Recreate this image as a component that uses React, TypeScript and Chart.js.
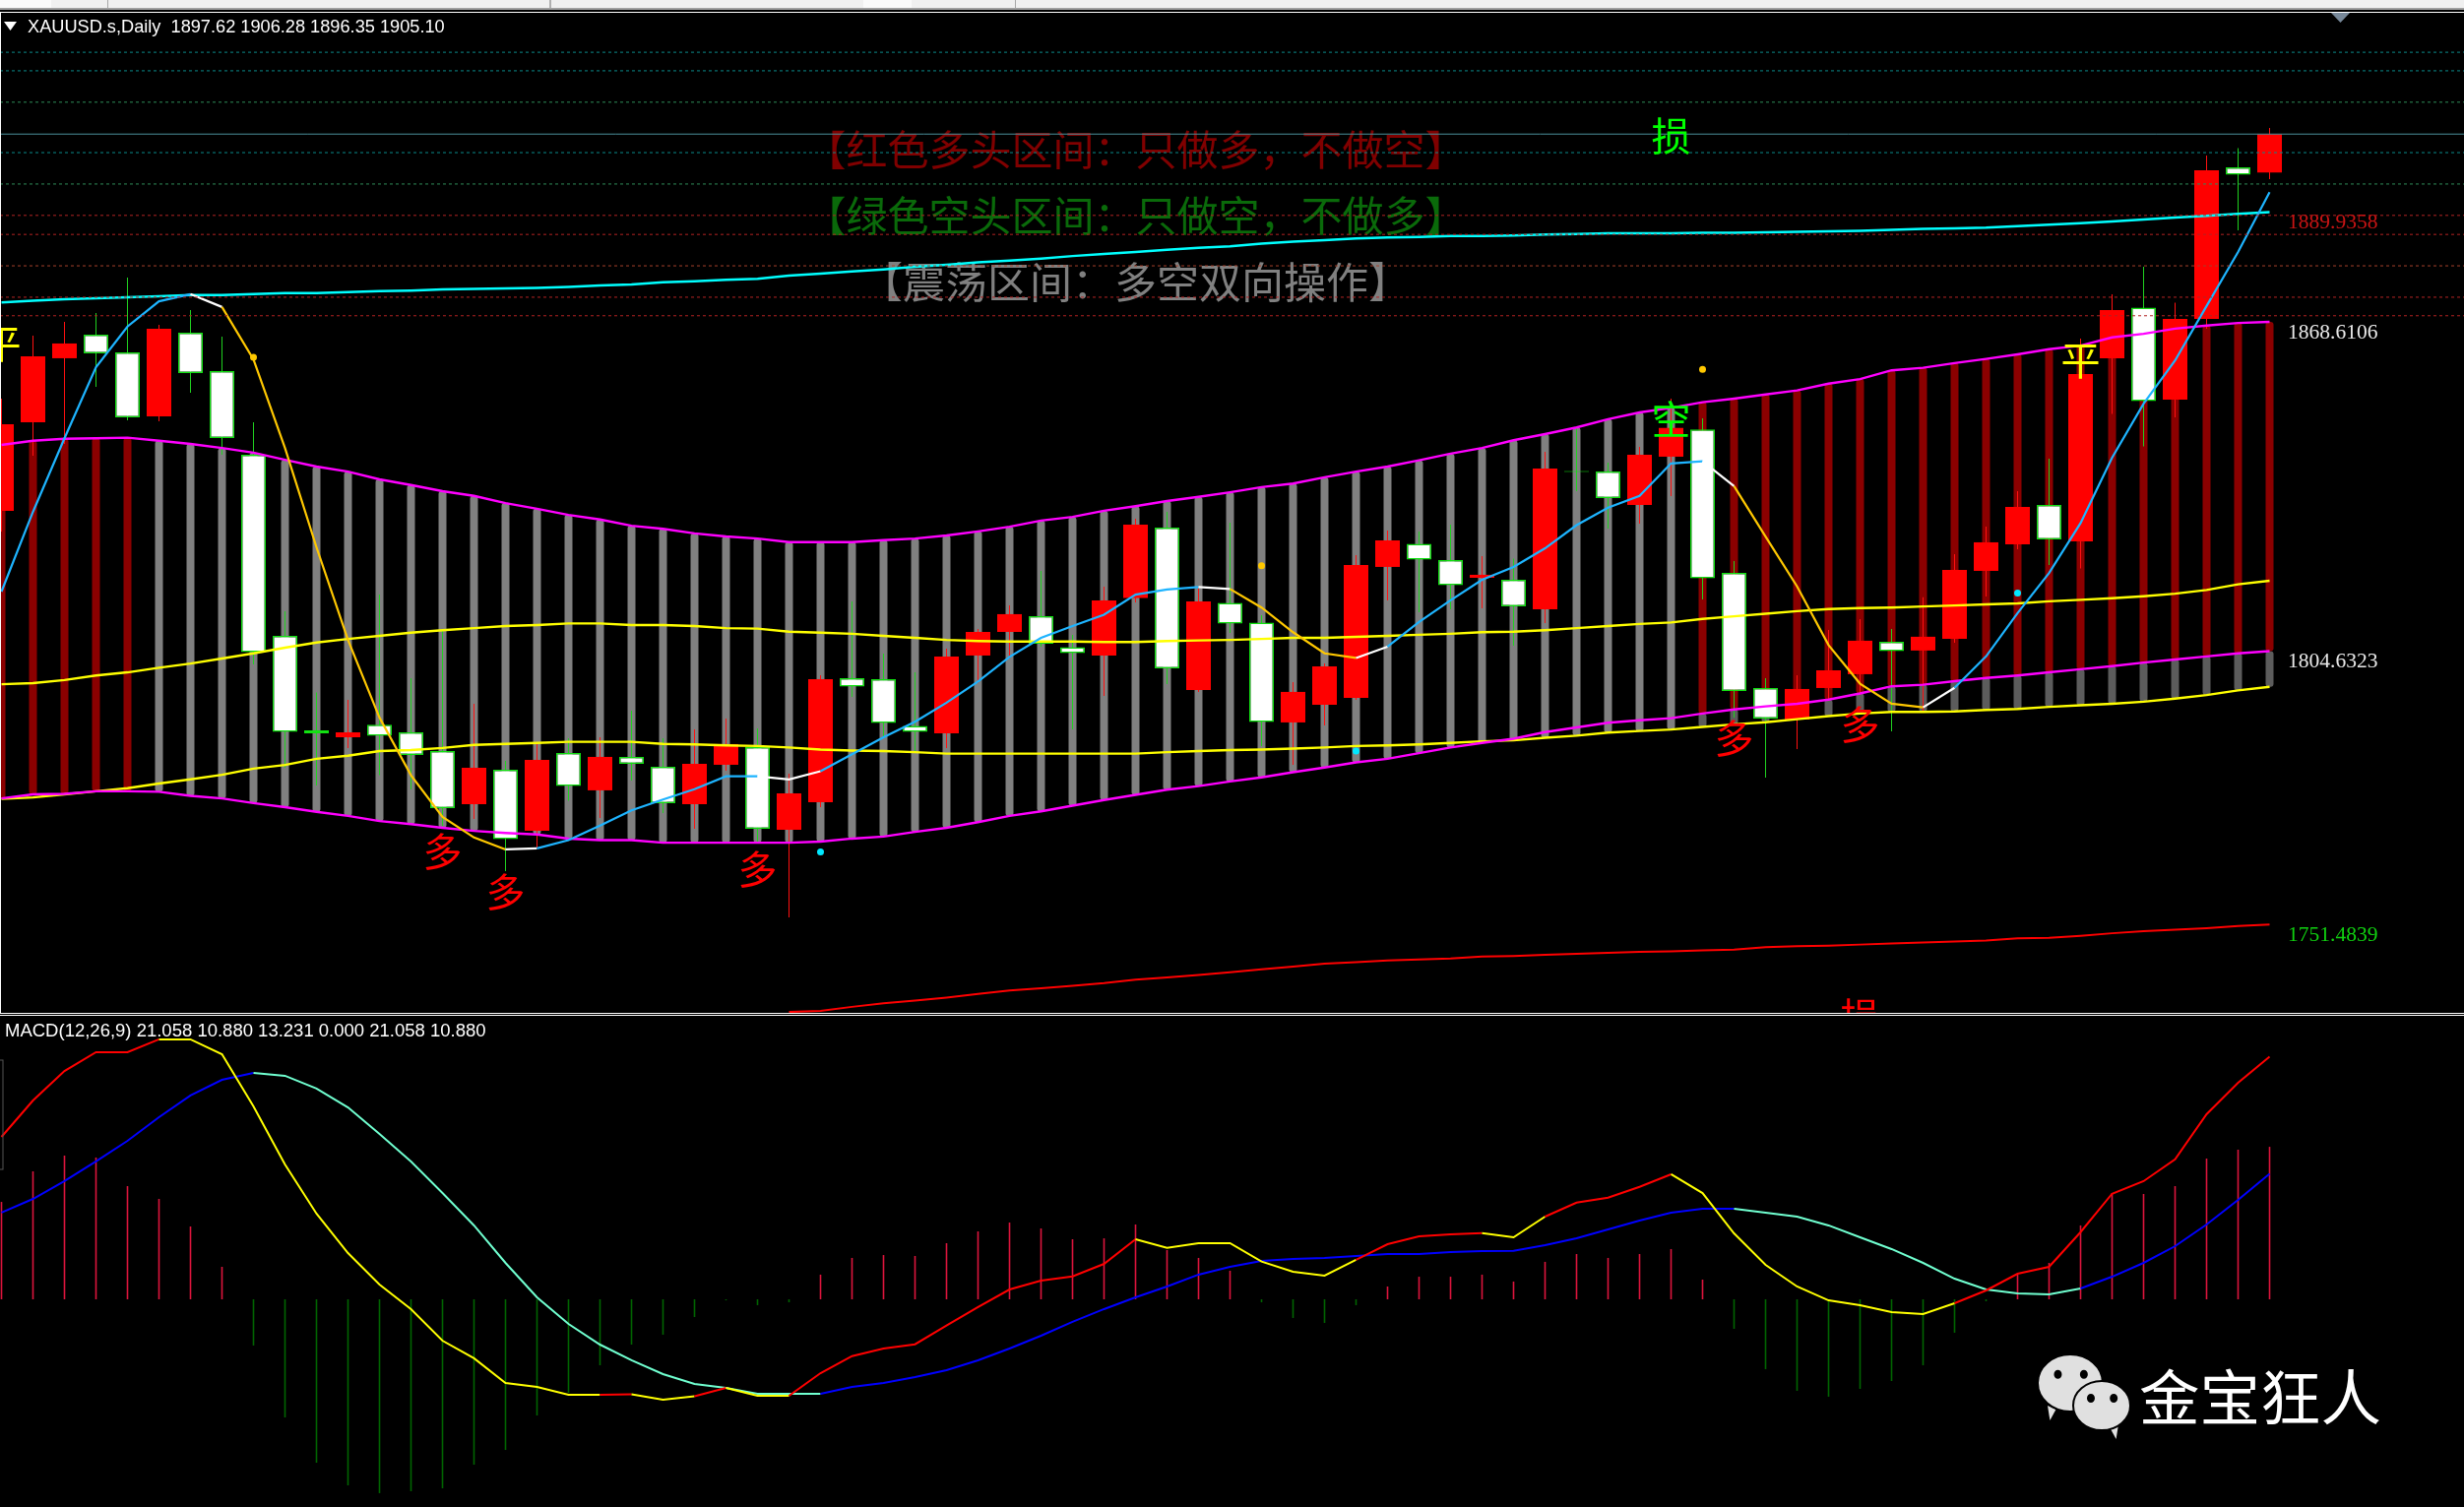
import React, { useEffect, useRef } from "react";
import { Chart, registerables } from "chart.js";

Chart.register(...registerables);

// ---------- candles (one per trading day) ----------
const opens = [1831.89,1849.10,1861.54,1866.13,1862.69,1850.25,1866.51,1859.05,1842.79,1807.60,1789.24,1787.89,1790.31,1788.85,1785.22,1774.89,1781.58,1769.73,1784.83,1777.57,1784.07,1782.16,1774.89,1782.54,1785.98,1769.92,1775.27,1799.37,1799.18,1790.10,1788.66,1803.77,1808.36,1811.43,1805.40,1803.77,1814.97,1828.63,1797.08,1814.01,1810.18,1790.77,1794.21,1795.55,1820.99,1825.48,1822.32,1818.88,1818.50,1812.77,1839.63,1839.54,1833.03,1842.41,1847.71,1819.84,1797.46,1791.34,1797.46,1800.14,1806.46,1804.74,1807.03,1820.22,1825.38,1833.03,1825.96,1861.54,1871.37,1853.50,1869.19,1898.64,1897.62];
const closes = [1848.72,1861.92,1864.41,1862.50,1850.06,1867.28,1858.67,1846.04,1804.45,1788.93,1788.66,1788.85,1788.19,1784.45,1774.12,1781.97,1768.10,1783.50,1778.43,1784.07,1782.73,1775.08,1782.73,1786.56,1770.11,1776.99,1799.18,1797.75,1790.65,1788.93,1803.58,1808.36,1811.81,1806.08,1804.24,1814.49,1829.21,1801.29,1814.30,1809.97,1790.84,1796.70,1801.67,1821.37,1826.15,1822.40,1817.43,1819.46,1813.34,1840.11,1839.44,1834.37,1842.79,1848.00,1818.77,1796.89,1791.53,1797.27,1800.90,1806.65,1804.64,1807.42,1820.41,1825.77,1832.65,1826.33,1858.48,1870.91,1853.20,1869.19,1898.07,1897.19,1905.10];
const highs = [1853.69,1865.94,1868.62,1870.34,1877.22,1868.04,1870.91,1865.75,1849.10,1812.38,1796.58,1795.17,1815.63,1799.37,1808.56,1794.40,1783.30,1786.75,1787.71,1787.90,1793.06,1787.71,1789.43,1791.53,1789.62,1780.82,1799.95,1814.29,1804.15,1800.52,1805.11,1808.94,1813.53,1820.23,1807.79,1817.17,1830.36,1831.70,1816.78,1829.59,1811.62,1798.61,1802.24,1823.28,1828.06,1827.87,1829.21,1823.09,1822.61,1843.36,1848.15,1841.26,1844.32,1853.69,1849.87,1822.13,1799.37,1799.95,1808.75,1810.85,1808.94,1815.10,1823.47,1828.83,1835.71,1842.03,1865.37,1873.97,1879.33,1872.34,1900.94,1902.37,1906.28];
const lows = [1827.87,1842.60,1844.90,1855.99,1849.49,1849.29,1854.84,1842.79,1802.05,1781.97,1778.52,1785.79,1780.53,1777.76,1770.68,1772.02,1761.89,1766.48,1775.54,1772.21,1779.48,1773.17,1770.11,1781.39,1767.24,1752.90,1774.31,1795.74,1787.71,1784.83,1785.79,1798.42,1803.20,1805.50,1789.43,1795.93,1814.10,1798.23,1796.70,1808.18,1786.17,1782.54,1790.19,1795.17,1814.49,1812.19,1812.77,1812.96,1805.69,1810.10,1835.71,1828.44,1829.40,1834.75,1814.68,1791.73,1780.05,1785.60,1795.17,1796.12,1789.04,1792.68,1806.27,1815.25,1824.42,1821.37,1820.70,1850.73,1844.42,1850.06,1867.28,1886.40,1896.35];

// ---------- overlay lines (price) ----------
const bandUpper = [1844.7,1845.5,1845.9,1846.0,1846.1,1845.5,1844.9,1844.1,1843.2,1841.8,1840.5,1839.5,1838.0,1836.9,1835.7,1834.8,1833.4,1832.3,1831.1,1830.2,1829.0,1828.4,1827.5,1826.9,1826.5,1825.8,1825.8,1825.8,1826.2,1826.5,1827.1,1827.9,1828.8,1830.0,1830.7,1831.9,1832.8,1833.8,1834.6,1835.5,1836.5,1837.2,1838.4,1839.5,1840.5,1841.7,1843.0,1844.1,1845.6,1846.8,1848.1,1849.7,1851.0,1851.9,1853.0,1853.7,1854.5,1855.3,1856.6,1857.5,1859.2,1859.7,1860.6,1861.4,1862.3,1863.3,1864.0,1865.6,1866.3,1867.3,1867.9,1868.4,1868.6106];
const bandLower = [1776.0,1776.8,1776.9,1777.4,1777.4,1777.3,1776.5,1776.0,1775.1,1774.3,1773.4,1772.6,1771.6,1771.0,1770.3,1769.7,1769.3,1769.0,1768.2,1767.9,1767.9,1767.4,1767.4,1767.4,1767.4,1767.4,1767.6,1768.2,1768.6,1769.5,1770.3,1771.4,1772.6,1773.5,1774.6,1775.7,1776.7,1777.7,1778.4,1779.3,1780.1,1781.1,1782.0,1783.0,1783.7,1784.8,1785.9,1786.8,1787.6,1788.9,1789.8,1790.7,1791.2,1791.6,1792.5,1793.3,1793.9,1794.4,1795.2,1796.4,1797.8,1798.1,1798.8,1799.4,1799.9,1800.5,1801.1,1801.7,1802.4,1803.0,1803.6,1804.2,1804.6323];
const yellowUpper = [1798.2,1798.4,1799.0,1799.9,1800.5,1801.4,1802.2,1803.2,1804.2,1805.3,1806.3,1807.0,1807.6,1808.2,1808.7,1809.1,1809.5,1809.7,1810.0,1810.0,1809.7,1809.7,1809.5,1809.1,1809.0,1808.4,1808.2,1808.0,1807.6,1807.2,1806.8,1806.6,1806.5,1806.5,1806.5,1806.4,1806.4,1806.6,1806.7,1806.8,1807.0,1807.2,1807.2,1807.4,1807.6,1807.8,1808.0,1808.3,1808.4,1808.7,1809.1,1809.5,1809.9,1810.2,1810.9,1811.4,1811.9,1812.4,1812.8,1813.0,1813.1,1813.3,1813.5,1813.7,1813.9,1814.3,1814.6,1814.9,1815.3,1815.8,1816.5,1817.6,1818.3];
const yellowLower = [1775.9,1776.2,1776.8,1777.4,1778.0,1778.9,1779.7,1780.6,1781.8,1782.5,1783.7,1784.3,1785.2,1785.4,1785.8,1786.4,1786.6,1786.8,1787.0,1787.0,1787.0,1786.6,1786.5,1786.3,1786.2,1785.9,1785.5,1785.3,1785.2,1785.0,1784.7,1784.7,1784.7,1784.7,1784.7,1784.7,1784.7,1785.0,1785.2,1785.4,1785.5,1785.7,1785.9,1786.2,1786.3,1786.5,1786.8,1787.1,1787.3,1787.8,1788.2,1788.8,1789.1,1789.4,1789.9,1790.4,1790.8,1791.4,1792.0,1792.5,1792.8,1792.8,1792.9,1793.2,1793.4,1793.8,1794.1,1794.4,1794.8,1795.4,1796.1,1797.0,1797.7];
const cyanLine = [1872.4,1872.7,1873.0,1873.2,1873.4,1873.6,1873.8,1873.8,1874.0,1874.2,1874.2,1874.4,1874.6,1874.7,1874.9,1875.0,1875.1,1875.2,1875.4,1875.7,1875.9,1876.3,1876.5,1876.8,1877.0,1877.6,1878.0,1878.4,1878.8,1879.3,1879.7,1880.2,1880.5,1880.9,1881.4,1881.8,1882.2,1882.6,1883.0,1883.3,1883.8,1884.2,1884.5,1884.8,1885.0,1885.1,1885.3,1885.3,1885.4,1885.6,1885.7,1885.8,1885.8,1885.8,1885.9,1885.9,1886.0,1886.1,1886.2,1886.3,1886.5,1886.7,1886.8,1886.9,1887.2,1887.5,1887.8,1888.1,1888.5,1888.9,1889.2,1889.6,1889.9358];
const fastLine = [1816.2,1831.7,1846.0,1859.8,1867.7,1872.6,1874.0,1871.5,1861.3,1844.1,1824.8,1806.8,1791.7,1780.5,1772.4,1768.4,1766.1,1766.3,1767.9,1770.7,1773.7,1775.8,1777.8,1780.3,1780.3,1779.7,1781.3,1784.6,1787.9,1790.9,1794.6,1798.7,1803.5,1807.2,1809.5,1811.7,1815.6,1816.6,1817.1,1816.7,1813.1,1808.3,1804.2,1803.3,1805.5,1810.3,1814.5,1818.5,1821.0,1824.6,1829.1,1832.5,1834.8,1841.1,1841.5,1836.7,1826.9,1817.2,1805.8,1798.3,1794.4,1793.7,1797.5,1803.6,1812.0,1819.8,1829.5,1842.2,1852.7,1861.1,1871.7,1882.2,1893.8];
const redLineStart = 25;
const redLine = [1734.5,1734.7,1735.5,1736.2,1736.7,1737.3,1738.0,1738.7,1739.1,1739.6,1740.1,1740.8,1741.2,1741.7,1742.2,1742.8,1743.3,1743.9,1744.2,1744.5,1744.7,1744.9,1745.3,1745.4,1745.6,1745.8,1746.0,1746.2,1746.3,1746.5,1746.6,1747.1,1747.3,1747.4,1747.6,1747.8,1748.0,1748.2,1748.4,1748.8,1748.9,1749.3,1749.8,1750.2,1750.5,1750.8,1751.2,1751.4839];
const fastColorRuns: [number, string][] = [[6,"b"],[1,"w"],[9,"g"],[1,"w"],[7,"b"],[2,"w"],[12,"b"],[1,"w"],[4,"g"],[1,"w"],[10,"b"],[1,"w"],[6,"g"],[1,"w"],[10,"b"]];
const darkRedBands = [0,1,2,3,4,54,55,56,57,58,59,60,61,62,63,64,65,66,67,68,69,70,71,72];

const goldDots = [{ i: 8, p: 1861.7 }, { i: 40, p: 1821.2 }, { i: 54, p: 1859.4 }];
const cyanDots = [{ i: 26, p: 1765.6 }, { i: 43, p: 1785.2 }, { i: 64, p: 1815.9 }];

const levels = [
  { p: 1921.0, c: "#0a8a8a", d: [3, 3] }, { p: 1917.4, c: "#0a8a8a", d: [3, 3] },
  { p: 1911.3, c: "#2e8b57", d: [3, 3] }, { p: 1905.1, c: "#4a8f9a", d: [] },
  { p: 1901.5, c: "#0a8a8a", d: [3, 3] }, { p: 1895.4, c: "#2e8b57", d: [3, 3] },
  { p: 1889.3, c: "#b22222", d: [3, 3] }, { p: 1885.6, c: "#b22222", d: [3, 3] },
  { p: 1879.5, c: "#a5402a", d: [3, 3] }, { p: 1873.4, c: "#b22222", d: [3, 3] },
  { p: 1869.8, c: "#b22222", d: [3, 3] },
];

const signs = [
  { t: "多", i: 14, p: 1765.7, c: "#ff0000" }, { t: "多", i: 16, p: 1757.9, c: "#ff0000" },
  { t: "多", i: 24, p: 1762.3, c: "#ff0000" }, { t: "多", i: 55, p: 1787.7, c: "#ff0000" },
  { t: "多", i: 59, p: 1790.4, c: "#ff0000" }, { t: "平", i: 0, p: 1864.4, c: "#ffff00" },
  { t: "平", i: 66, p: 1861.1, c: "#ffff00" }, { t: "空", i: 53, p: 1849.7, c: "#00ff00" },
  { t: "损", i: 53, p: 1904.8, c: "#00ff00" }, { t: "损", i: 59, p: 1733.6, c: "#ff0000" },
  { t: "损", i: 55, p: 1730.6, c: "#ff0000" },
];
const captions = [
  { t: "【红色多头区间：只做多，不做空】", i: 36, p: 1902.1, c: "#800000", s: 42 },
  { t: "【绿色空头区间：只做空，不做多】", i: 36, p: 1889.3, c: "#0a6a0a", s: 42 },
  { t: "【震荡区间：多空双向操作】", i: 36, p: 1876.3, c: "#808080", s: 43 },
];
const priceLabels = [
  { t: "1889.9358", p: 1889.9358, c: "#c81414" }, { t: "1868.6106", p: 1868.6106, c: "#e8e8e8" },
  { t: "1804.6323", p: 1804.6323, c: "#e8e8e8" }, { t: "1751.4839", p: 1751.4839, c: "#10d010" },
];
const headerMain = "XAUUSD.s,Daily  1897.62 1906.28 1896.35 1905.10";

// ---------- MACD ----------
const macdLine = [14.09,17.25,19.81,21.44,21.44,22.55,22.55,21.26,16.74,11.70,7.43,4.01,1.28,-0.85,-3.59,-5.12,-7.26,-7.60,-8.28,-8.28,-8.24,-8.71,-8.42,-7.69,-8.37,-8.37,-6.41,-4.93,-4.27,-3.90,-2.28,-0.68,0.85,1.62,1.99,3.07,5.21,4.47,4.87,4.87,3.27,2.39,2.05,3.42,4.78,5.47,5.64,5.75,5.38,7.17,8.39,8.82,9.76,10.85,9.22,5.72,2.99,1.11,-0.09,-0.51,-1.11,-1.28,-0.34,0.77,2.22,2.82,5.83,9.16,10.25,12.15,16.06,18.79,21.058];
const signalLine = [7.52,8.71,10.25,11.96,13.75,15.80,17.68,19.04,19.64,19.39,18.28,16.65,14.35,11.96,9.22,6.41,3.16,0.17,-2.14,-3.93,-5.29,-6.49,-7.34,-7.69,-8.20,-8.20,-8.20,-7.60,-7.26,-6.75,-6.15,-5.29,-4.27,-3.16,-1.96,-0.85,0.17,1.11,2.14,2.82,3.33,3.50,3.59,3.76,3.93,3.93,4.10,4.18,4.21,4.70,5.29,6.06,6.83,7.52,7.86,7.86,7.52,7.17,6.41,5.38,4.36,3.16,1.79,0.85,0.51,0.43,0.94,1.96,3.16,4.61,6.49,8.63,10.880];
const histogram = [8.45,11.10,12.47,12.30,9.82,8.71,6.32,2.82,-4.01,-10.25,-14.18,-16.14,-16.82,-16.65,-16.40,-14.35,-13.07,-10.08,-8.11,-5.72,-3.93,-3.07,-1.54,-0.09,-0.51,-0.26,2.14,3.59,3.84,3.76,4.87,5.89,6.66,6.15,5.21,5.29,6.49,4.27,3.59,2.48,-0.26,-1.62,-2.05,-0.51,1.11,1.96,1.96,2.14,1.54,3.25,3.93,3.59,3.93,4.36,1.71,-2.56,-6.06,-7.94,-8.45,-7.77,-7.09,-5.72,-2.90,-0.17,2.14,3.16,6.41,9.22,9.14,9.82,12.21,12.98,13.231];
const macdColorRuns: [number, string][] = [[5,"r"],[14,"y"],[1,"r"],[2,"y"],[1,"r"],[2,"y"],[11,"r"],[7,"y"],[4,"r"],[2,"y"],[4,"r"],[9,"y"],[10,"r"]];
const signalColorRuns: [number, string][] = [[8,"b"],[18,"a"],[29,"b"],[11,"a"],[6,"b"]];
const headerMacd = "MACD(12,26,9) 21.058 10.880 13.231 0.000 21.058 10.880";
const watermark = "金宝狂人";

// ---------- scale ranges ----------
const xMin = -0.046875;
const xMax = 78.171875;
const priceMin = 1734.33;
const priceMax = 1928.67;
const macdMin = -18.02;
const macdMax = 24.595;

const palette: Record<string, string> = {
  b: "#1eb4ff", w: "#ffffff", g: "#ffc800", r: "#ff0000", y: "#ffff00",
};
const signalPalette: Record<string, string> = { b: "#0000ff", a: "#70ffd0" };

const expand = (runs: [number, string][], pal: Record<string, string>) => {
  const out: string[] = [];
  runs.forEach(([n, k]) => { for (let j = 0; j < n; j++) out.push(pal[k]); });
  return out;
};
const series = (vals: number[], start = 0) => vals.map((y, i) => ({ x: i + start, y }));
const hiddenScale = (min: number, max: number) => ({
  type: "linear" as const, min, max, display: false, offset: false, grid: { display: false },
});

const line = (label: string, data: any[], color: string, width: number, order: number, extra: any = {}) => ({
  type: "line" as const, label, data, borderColor: color, borderWidth: width, pointRadius: 0, tension: 0, order, ...extra,
});

const cjk = '"Noto Sans CJK SC", sans-serif';

const mainPlugin = {
  id: "mainText",
  beforeDatasetsDraw(chart: any) {
    const { ctx, scales } = chart;
    ctx.save();
    ctx.textAlign = "center";
    ctx.textBaseline = "middle";
    captions.forEach((c) => {
      ctx.font = `${c.s}px ${cjk}`;
      ctx.fillStyle = c.c;
      ctx.fillText(c.t, scales.x.getPixelForValue(c.i), scales.y.getPixelForValue(c.p));
    });
    ctx.restore();
  },
  afterDatasetsDraw(chart: any) {
    const { ctx, scales } = chart;
    ctx.save();
    ctx.font = `40px ${cjk}`;
    ctx.textAlign = "center";
    ctx.textBaseline = "middle";
    signs.forEach((s) => {
      ctx.fillStyle = s.c;
      ctx.fillText(s.t, scales.x.getPixelForValue(s.i), scales.y.getPixelForValue(s.p));
    });
    ctx.font = '21.5px "Liberation Serif", serif';
    ctx.textAlign = "left";
    priceLabels.forEach((l) => {
      ctx.fillStyle = l.c;
      ctx.fillText(l.t, 2324, scales.y.getPixelForValue(l.p) + 11);
    });
    // header
    ctx.font = '18.2px "Liberation Sans", sans-serif';
    ctx.fillStyle = "#ffffff";
    ctx.fillText(headerMain, 28, 15);
    ctx.beginPath();
    ctx.moveTo(4, 9);
    ctx.lineTo(17, 9);
    ctx.lineTo(10.5, 18);
    ctx.closePath();
    ctx.fill();
    // small chart-shift marker
    ctx.fillStyle = "#778899";
    ctx.beginPath();
    ctx.moveTo(2368, 0);
    ctx.lineTo(2387, 0);
    ctx.lineTo(2377.5, 10);
    ctx.closePath();
    ctx.fill();
    ctx.restore();
  },
};

const bubble = (ctx: any, cx: number, cy: number, rx: number, ry: number, tailX: number, tailDir: number) => {
  ctx.fillStyle = "#e0e0e0";
  ctx.strokeStyle = "#000000";
  ctx.lineWidth = 2;
  ctx.beginPath();
  ctx.moveTo(tailX, cy + ry - 6);
  ctx.lineTo(tailX + tailDir * 4, cy + ry + 9);
  ctx.lineTo(tailX + tailDir * 14, cy + ry - 2);
  ctx.closePath();
  ctx.fill();
  ctx.beginPath();
  ctx.ellipse(cx, cy, rx, ry, 0, 0, Math.PI * 2);
  ctx.fill();
  ctx.stroke();
  ctx.fillStyle = "#000000";
  ctx.beginPath();
  ctx.ellipse(cx - rx * 0.38, cy - ry * 0.3, 4, 4.5, 0, 0, Math.PI * 2);
  ctx.ellipse(cx + rx * 0.42, cy - ry * 0.3, 4, 4.5, 0, 0, Math.PI * 2);
  ctx.fill();
};

const macdPlugin = {
  id: "macdText",
  afterDatasetsDraw(chart: any) {
    const { ctx } = chart;
    ctx.save();
    ctx.font = '18.5px "Liberation Sans", sans-serif';
    ctx.fillStyle = "#ffffff";
    ctx.textAlign = "left";
    ctx.textBaseline = "middle";
    ctx.fillText(headerMacd, 5, 16);
    ctx.strokeStyle = "#555555";
    ctx.lineWidth = 1;
    ctx.strokeRect(-2, 45, 5, 111);
    bubble(ctx, 2103, 373, 33, 29, 2080, 0.6);
    bubble(ctx, 2135, 396, 29, 25, 2152, -0.6);
    ctx.font = `61.5px ${cjk}`;
    ctx.fillStyle = "#ffffff";
    ctx.fillText(watermark, 2173, 388);
    ctx.restore();
  },
};

export default function App() {
  const mainRef = useRef<HTMLCanvasElement | null>(null);
  const macdRef = useRef<HTMLCanvasElement | null>(null);

  useEffect(() => {
    document.body.style.margin = "0";
    document.body.style.background = "#000";
    document.body.style.overflow = "hidden";

    const idx = opens.map((_, i) => i);
    const isDark = (i: number) => darkRedBands.includes(i);
    const isUp = (i: number) => closes[i] >= opens[i];
    const fastColors = expand(fastColorRuns, palette);
    const macdColors = expand(macdColorRuns, palette);
    const sigColors = expand(signalColorRuns, signalPalette);

    const bandOpts = {
      type: "bar" as const, barThickness: 8, grouped: false, borderRadius: 3,
      borderSkipped: false, borderWidth: 0, inflateAmount: 0,
    };

    const main = new Chart(mainRef.current as HTMLCanvasElement, {
      type: "bar",
      data: {
        datasets: [
          { ...bandOpts, label: "bandDim", order: 11, backgroundColor: "#5c5c5c",
            data: idx.filter((i) => i >= 54).map((i) => ({ x: i, y: [yellowLower[i], bandLower[i]] })) },
          { ...bandOpts, label: "bandGray", order: 10, backgroundColor: "#808080",
            data: idx.filter((i) => !isDark(i)).map((i) => ({ x: i, y: [Math.min(bandLower[i], yellowLower[i]), bandUpper[i]] })) },
          { ...bandOpts, label: "bandRed", order: 10, backgroundColor: "#8b0000",
            data: idx.filter(isDark).map((i) => ({ x: i, y: [bandLower[i], bandUpper[i]] })) },
          { type: "bar", label: "wick", order: 9, barThickness: 1, grouped: false, borderWidth: 0, inflateAmount: 0,
            data: idx.map((i) => ({ x: i, y: [lows[i], highs[i]] })),
            backgroundColor: idx.map((i) => (isUp(i) ? "#ff1010" : "#20d020")) },
          { type: "bar", label: "body", order: 8, barThickness: 25, grouped: false, inflateAmount: 0,
            borderSkipped: false,
            data: idx.map((i) => ({ x: i, y: [opens[i], closes[i]] })),
            backgroundColor: idx.map((i) => (isUp(i) ? "#ff0000" : "#ffffff")),
            borderColor: idx.map((i) => (isUp(i) ? "#ff0000" : "#10e010")),
            borderWidth: idx.map((i) => (isUp(i) ? 0 : 1.5)) },
          line("yellowUpper", series(yellowUpper), "#ffff00", 2.4, 7),
          line("yellowLower", series(yellowLower), "#ffff00", 2.4, 7),
          line("bandUpper", series(bandUpper), "#ff00ff", 2.4, 6),
          line("bandLower", series(bandLower), "#ff00ff", 2.4, 6),
          line("cyan", series(cyanLine), "#00ffff", 2.5, 6),
          line("red", series(redLine, redLineStart), "#ff0000", 2, 6),
          line("fast", series(fastLine), "#1eb4ff", 2.2, 5, {
            segment: { borderColor: (c: any) => fastColors[c.p0DataIndex] },
          }),
          line("goldDots", goldDots.map((d) => ({ x: d.i, y: d.p })), "#ffc800", 0, 4, {
            showLine: false, pointRadius: 3.5, pointBackgroundColor: "#ffc800", pointBorderWidth: 0,
          }),
          line("cyanDots", cyanDots.map((d) => ({ x: d.i, y: d.p })), "#00ffff", 0, 4, {
            showLine: false, pointRadius: 3.5, pointBackgroundColor: "#00e8ff", pointBorderWidth: 0,
          }),
          ...levels.map((l, k) =>
            line(`level${k}`, [{ x: xMin, y: l.p }, { x: xMax, y: l.p }], l.c, 1, 3, { borderDash: l.d })
          ),
        ] as any,
      },
      options: {
        animation: false, responsive: false, maintainAspectRatio: false, devicePixelRatio: 1,
        layout: { padding: 0, autoPadding: false },
        plugins: { legend: { display: false }, tooltip: { enabled: false } },
        scales: { x: hiddenScale(xMin, xMax), y: hiddenScale(priceMin, priceMax) },
      } as any,
      plugins: [mainPlugin],
    });

    const macd = new Chart(macdRef.current as HTMLCanvasElement, {
      type: "bar",
      data: {
        datasets: [
          { type: "bar", label: "hist", order: 5, barThickness: 1.6, grouped: false, borderWidth: 0, inflateAmount: 0,
            data: series(histogram),
            backgroundColor: histogram.map((v) => (v >= 0 ? "#dc143c" : "#006400")) },
          line("signal", series(signalLine), "#0000ff", 2, 3, {
            segment: { borderColor: (c: any) => sigColors[c.p0DataIndex] },
          }),
          line("macd", series(macdLine), "#ff0000", 2, 2, {
            segment: { borderColor: (c: any) => macdColors[c.p0DataIndex] },
          }),
        ] as any,
      },
      options: {
        animation: false, responsive: false, maintainAspectRatio: false, devicePixelRatio: 1,
        layout: { padding: 0, autoPadding: false },
        plugins: { legend: { display: false }, tooltip: { enabled: false } },
        scales: { x: hiddenScale(xMin, xMax), y: hiddenScale(macdMin, macdMax) },
      } as any,
      plugins: [macdPlugin],
    });

    return () => {
      main.destroy();
      macd.destroy();
    };
  }, []);

  const bar = (top: number, height: number, color: string, left = 0, width: number | string = "100%") => (
    <div style={{ position: "absolute", top, left, width, height, background: color }} />
  );

  return (
    <div style={{ position: "relative", width: 2503, height: 1531, background: "#000", overflow: "hidden" }}>
      {bar(0, 8, "#f0f0f0")}
      {bar(8, 2, "#a0a0a0")}
      {bar(0, 8, "#fafafa", 0, 52)}
      {bar(0, 8, "#a8a8a8", 109, 1)}
      {bar(0, 8, "#b0b0b0", 558, 2)}
      {bar(0, 8, "#fafafa", 877, 49)}
      {bar(0, 8, "#a8a8a8", 1031, 1)}
      {bar(12, 1, "#ffffff")}
      <canvas ref={mainRef} width={2503} height={1016}
        style={{ position: "absolute", top: 13, left: 0, width: 2503, height: 1016, display: "block" }} />
      {bar(13, 1016, "#ffffff", 0, 1)}
      {bar(1029, 1, "#ffffff")}
      {bar(1031, 1, "#ffffff")}
      <canvas ref={macdRef} width={2503} height={499}
        style={{ position: "absolute", top: 1032, left: 0, width: 2503, height: 499, display: "block" }} />
    </div>
  );
}
